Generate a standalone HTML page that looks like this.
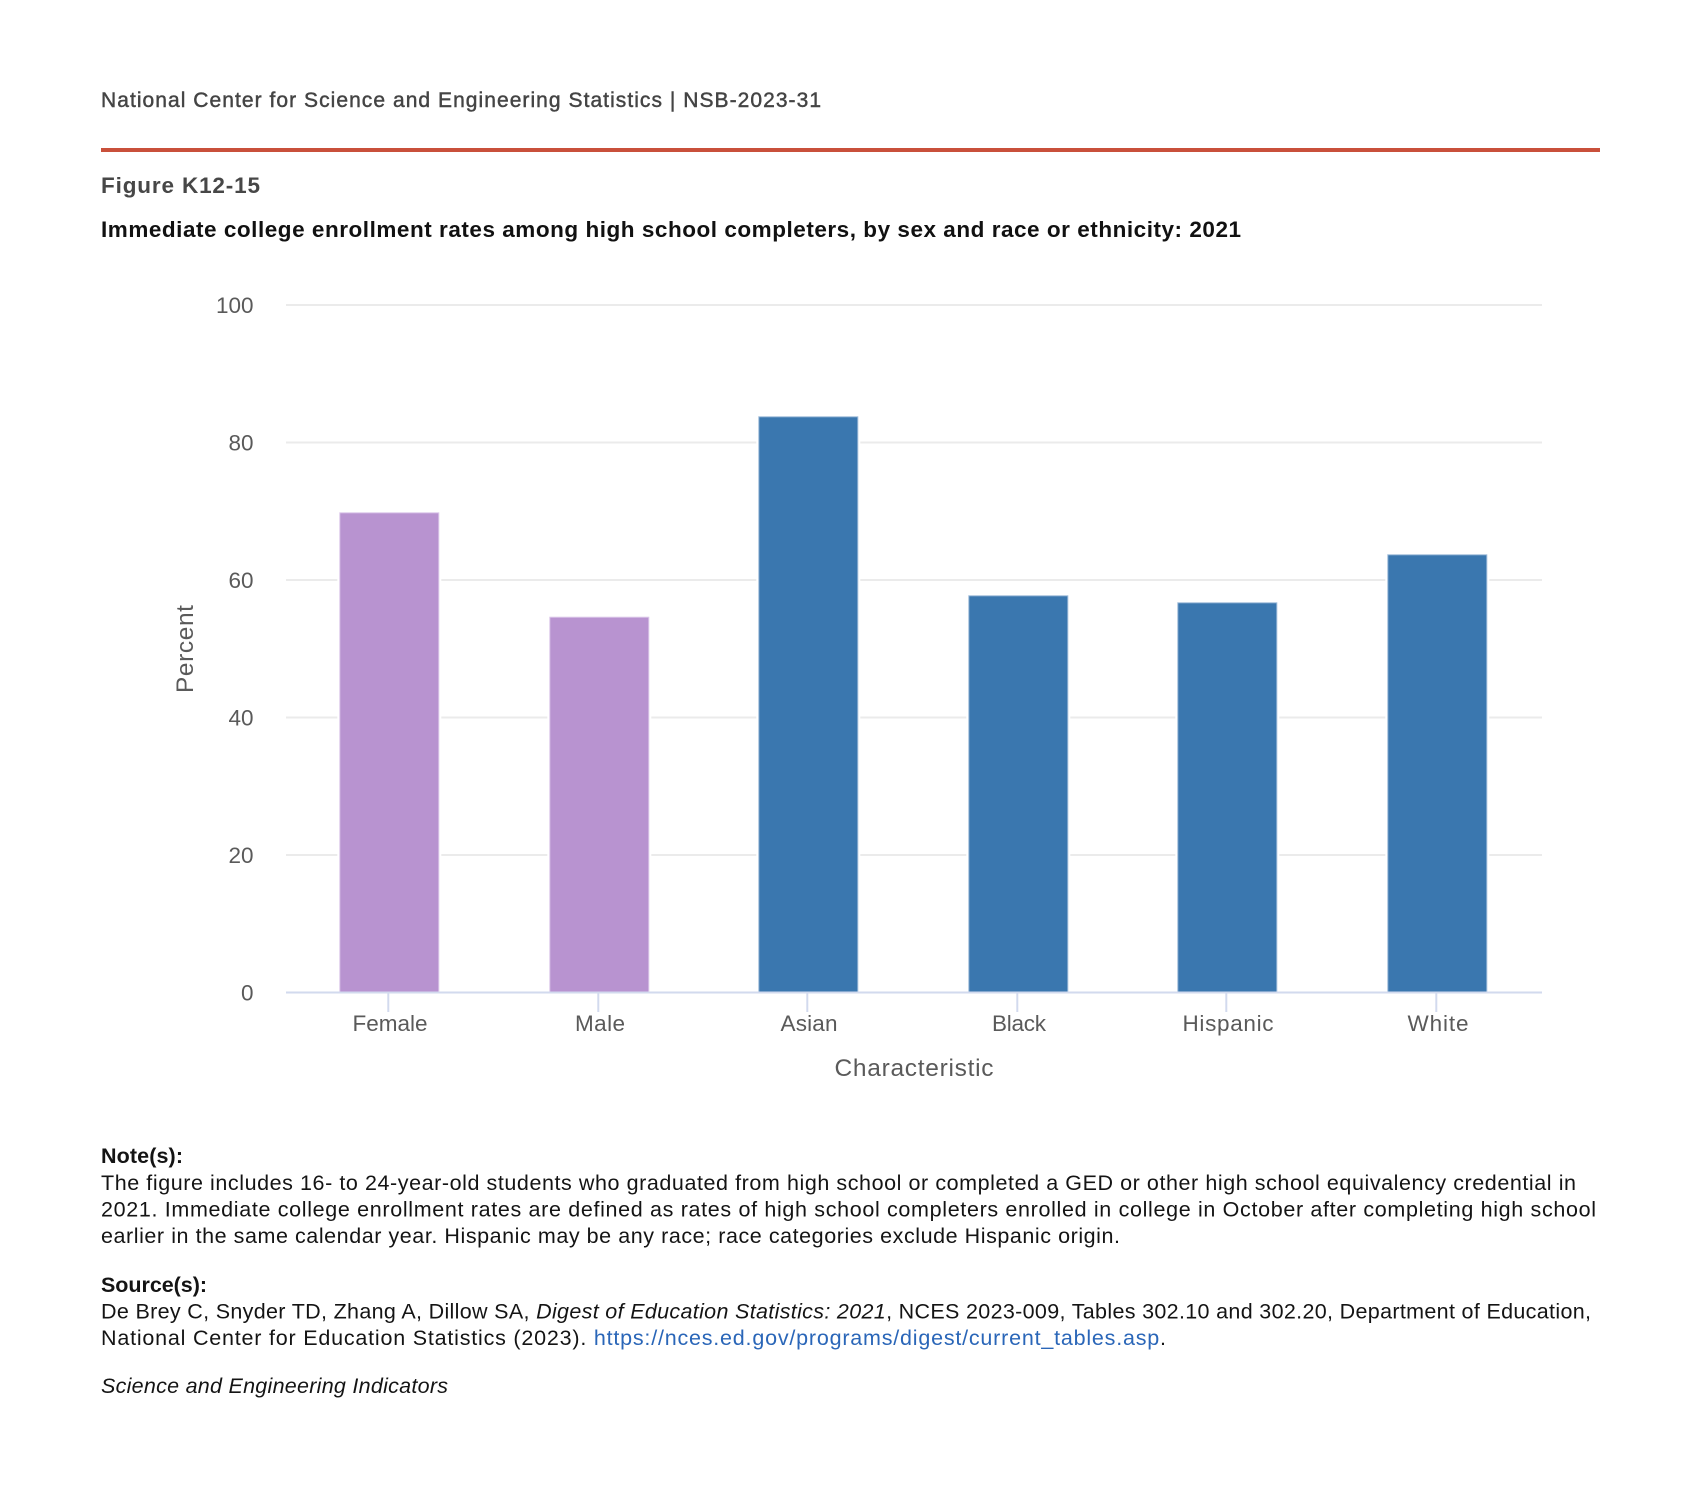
<!DOCTYPE html>
<html>
<head>
<meta charset="utf-8">
<style>
  html, body { margin: 0; padding: 0; background: #ffffff; }
  body { width: 1699px; height: 1509px; overflow: hidden; }
  svg { display: block; }
  .sans { font-family: "Liberation Sans", "DejaVu Sans", sans-serif; }
</style>
</head>
<body>
<svg width="1699" height="1509" viewBox="0 0 1699 1509" xmlns="http://www.w3.org/2000/svg" class="sans">
  <rect x="0" y="0" width="1699" height="1509" fill="#ffffff"/>

  <!-- Header -->
  <text x="101" y="107" font-size="21" fill="#444444" stroke="#444444" stroke-width="0.45" textLength="720">National Center for Science and Engineering Statistics  |  NSB-2023-31</text>
  <rect x="101" y="148" width="1499" height="4" fill="#c9503b"/>
  <text x="101" y="193" font-size="22.5" font-weight="bold" fill="#474747" textLength="159">Figure K12-15</text>
  <text x="101" y="237" font-size="22.5" font-weight="bold" fill="#111111" textLength="1140">Immediate college enrollment rates among high school completers, by sex and race or ethnicity: 2021</text>

  <!-- Gridlines -->
  <g fill="#ebebeb">
    <rect x="286" y="304" width="1256" height="2"/>
    <rect x="286" y="441.5" width="1256" height="2"/>
    <rect x="286" y="579" width="1256" height="2"/>
    <rect x="286" y="716.5" width="1256" height="2"/>
    <rect x="286" y="854" width="1256" height="2"/>
  </g>

  <!-- Y tick labels -->
  <g font-size="22.5" fill="#5a5a5a" text-anchor="end">
    <text x="253.5" y="313">100</text>
    <text x="253.5" y="450.5">80</text>
    <text x="253.5" y="588">60</text>
    <text x="253.5" y="725.5">40</text>
    <text x="253.5" y="863">20</text>
    <text x="253.5" y="1000.5">0</text>
  </g>

  <!-- Bars: white halo then fill -->
  <g fill="#ffffff">
    <rect x="337.3" y="510.3" width="104" height="482.2"/>
    <rect x="547.3" y="614.7" width="104" height="377.8"/>
    <rect x="756.3" y="414.3" width="104" height="578.2"/>
    <rect x="966.3" y="593.3" width="104" height="399.2"/>
    <rect x="1175.3" y="600.3" width="104" height="392.2"/>
    <rect x="1385.3" y="552.3" width="104" height="440.2"/>
  </g>
  <g stroke-width="1">
    <rect x="339.8" y="512.8" width="99" height="479.7" fill="#b893d0" stroke="#dcc8ea"/>
    <rect x="549.8" y="617.2" width="99" height="375.3" fill="#b893d0" stroke="#dcc8ea"/>
    <rect x="758.8" y="416.8" width="99" height="575.7" fill="#3a77af" stroke="#9dbbd8"/>
    <rect x="968.8" y="595.8" width="99" height="396.7" fill="#3a77af" stroke="#9dbbd8"/>
    <rect x="1177.8" y="602.8" width="99" height="389.7" fill="#3a77af" stroke="#9dbbd8"/>
    <rect x="1387.8" y="554.8" width="99" height="437.7" fill="#3a77af" stroke="#9dbbd8"/>
  </g>

  <!-- X axis line and ticks -->
  <rect x="286" y="991.5" width="1256" height="2" fill="#d2daee"/>
  <g fill="#d2daee">
    <rect x="387.3" y="993" width="2" height="19"/>
    <rect x="597.3" y="993" width="2" height="19"/>
    <rect x="806.3" y="993" width="2" height="19"/>
    <rect x="1016.3" y="993" width="2" height="19"/>
    <rect x="1225.3" y="993" width="2" height="19"/>
    <rect x="1435.3" y="993" width="2" height="19"/>
  </g>

  <!-- X tick labels -->
  <g font-size="22.5" fill="#5a5a5a" text-anchor="middle">
    <text x="390" y="1031" textLength="75">Female</text>
    <text x="600" y="1031" textLength="50">Male</text>
    <text x="809" y="1031" textLength="57">Asian</text>
    <text x="1019" y="1031" textLength="54">Black</text>
    <text x="1228" y="1031" textLength="91">Hispanic</text>
    <text x="1438" y="1031" textLength="61">White</text>
  </g>

  <!-- Axis titles -->
  <text x="914" y="1076" font-size="24.5" fill="#5a5a5a" text-anchor="middle" textLength="159">Characteristic</text>
  <text x="0" y="0" font-size="24.5" fill="#5a5a5a" text-anchor="middle" textLength="88" transform="translate(193,649) rotate(-90)">Percent</text>

  <!-- Notes -->
  <g font-size="21.5" fill="#141414">
    <text x="101" y="1163" font-weight="bold" textLength="82">Note(s):</text>
    <text x="101" y="1190" textLength="1475">The figure includes 16- to 24-year-old students who graduated from high school or completed a GED or other high school equivalency credential in</text>
    <text x="101" y="1216.5" textLength="1495">2021. Immediate college enrollment rates are defined as rates of high school completers enrolled in college in October after completing high school</text>
    <text x="101" y="1243" textLength="1019">earlier in the same calendar year. Hispanic may be any race; race categories exclude Hispanic origin.</text>

    <text x="101" y="1292" font-weight="bold" textLength="106">Source(s):</text>
    <text x="101" y="1318.5" textLength="1490">De Brey C, Snyder TD, Zhang A, Dillow SA, <tspan font-style="italic">Digest of Education Statistics: 2021</tspan>, NCES 2023-009, Tables 302.10 and 302.20, Department of Education,</text>
    <text x="101" y="1345" textLength="1065">National Center for Education Statistics (2023). <tspan fill="#2a66b8">https://nces.ed.gov/programs/digest/current_tables.asp</tspan>.</text>

    <text x="101" y="1393" font-style="italic" textLength="347">Science and Engineering Indicators</text>
  </g>
</svg>
</body>
</html>
